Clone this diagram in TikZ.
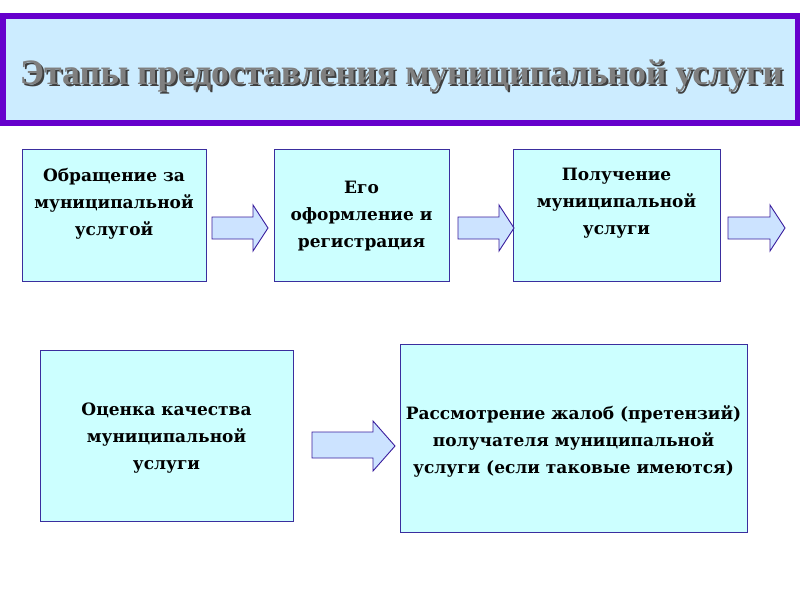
\documentclass[tikz,border=0pt]{standalone}
\usepackage{fontspec}
\setmainfont{DejaVu Serif}
\newfontfamily\titlefont{Liberation Serif}
\definecolor{titlefill}{HTML}{CCECFF}
\definecolor{titleborder}{HTML}{6600CC}
\definecolor{boxfill}{HTML}{CCFFFF}
\definecolor{boxborder}{HTML}{3A2E9E}
\definecolor{arrowfill}{HTML}{CCE3FF}
\definecolor{arrowborder}{HTML}{3A1E9E}
\definecolor{titletext}{HTML}{7F7F7F}
\tikzset{
  stagebox/.style={draw=boxborder, fill=boxfill, line width=0.9pt},
  stagetext/.style={align=center, font=\bfseries\fontsize{17}{27}\selectfont, text=black},
  flowarrow/.style={draw=arrowborder, fill=arrowfill, line width=0.9pt, line join=miter},
}
\newcommand{\titletxt}{\resizebox{763pt}{!}{\titlefont\bfseries\fontsize{42}{42}\selectfont Этапы предоставления муниципальной услуги}}
\begin{document}
\begin{tikzpicture}[x=1pt,y=-1pt]
\useasboundingbox (0,0) rectangle (800,600);
\fill[white] (0,0) rectangle (800,600);
% title
\node[draw=titleborder, fill=titlefill, line width=6pt, minimum width=795pt, minimum height=107pt, inner sep=0pt] (titlebox) at (400,69) {};
\node[text=black!75, inner sep=0pt] (titleshadow) at (403.5,78.5) {\titletxt};
\node[text=titletext, inner sep=0pt] (title) at (401.5,76.5) {\titletxt};
% row 1
\draw[stagebox] (22,149) rectangle (206,281);
\node[stagetext] (b1) at (114,204) {Обращение за\\муниципальной\\услугой};
\draw[stagebox] (274,149) rectangle (449,281);
\node[stagetext] (b2) at (361.5,216) {Его\\оформление и\\регистрация};
\draw[stagebox] (513,149) rectangle (720,281);
\node[stagetext] (b3) at (616.5,203) {Получение\\муниципальной\\услуги};
% row 2
\draw[stagebox] (40,350) rectangle (293,521);
\node[stagetext] (b4) at (166.5,438) {Оценка качества\\муниципальной\\услуги};
\draw[stagebox] (400,344) rectangle (747,532);
\node[stagetext] (b5) at (573.5,441) {Рассмотрение жалоб (претензий)\\получателя муниципальной\\услуги (если таковые имеются)};
% arrows
\draw[flowarrow] (212,217) -- (253,217) -- (253,205) -- (268,228) -- (253,251) -- (253,239) -- (212,239) -- cycle;
\draw[flowarrow] (458,217) -- (499,217) -- (499,205) -- (514,228) -- (499,251) -- (499,239) -- (458,239) -- cycle;
\draw[flowarrow] (728,217) -- (770,217) -- (770,205) -- (785,228) -- (770,251) -- (770,239) -- (728,239) -- cycle;
\draw[flowarrow] (312,432) -- (373,432) -- (373,421) -- (395,446) -- (373,471) -- (373,458) -- (312,458) -- cycle;
\end{tikzpicture}
\end{document}
